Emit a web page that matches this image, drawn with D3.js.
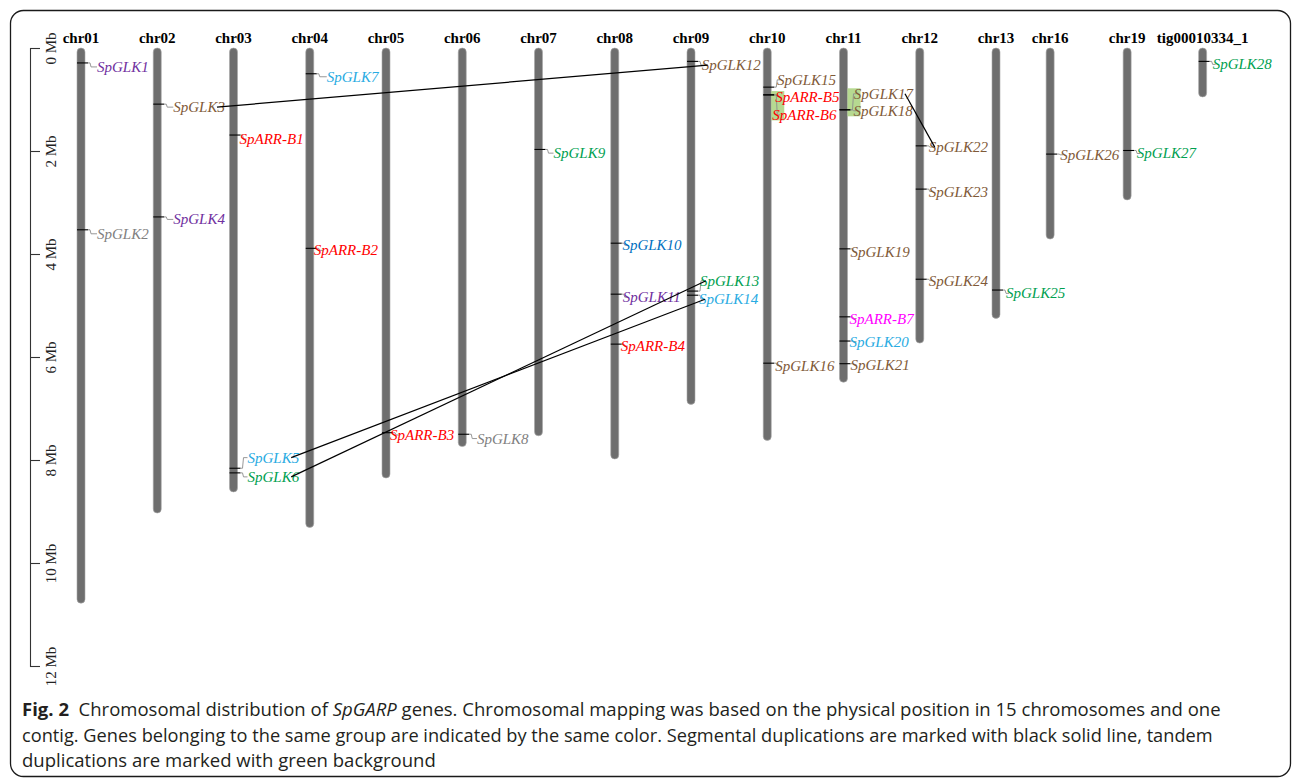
<!DOCTYPE html>
<html>
<head>
<meta charset="utf-8">
<script src="https://cdn.jsdelivr.net/npm/d3@7"></script>
<style>
  html, body { margin: 0; padding: 0; background: #fff; }
  svg { display: block; }
</style>
</head>
<body>
<svg id="chart" width="1292" height="780"></svg>
<script>
// ---------------- DATA ----------------
const chromosomes = ["chr01","chr02","chr03","chr04","chr05","chr06","chr07","chr08",
  "chr09","chr10","chr11","chr12","chr13","chr16","chr19","tig00010334_1"];
const chromLengthMb = [10.78, 9.03, 8.62, 9.31, 8.35, 7.74, 7.53, 7.98,
  6.92, 7.62, 6.49, 5.73, 5.25, 3.71, 2.95, 0.95];

const geneNames = ["SpGLK1","SpGLK2","SpGLK3","SpGLK4","SpARR-B1","SpGLK5","SpGLK6","SpGLK7",
  "SpARR-B2","SpARR-B3","SpGLK8","SpGLK9","SpGLK10","SpGLK11","SpARR-B4","SpGLK12",
  "SpGLK13","SpGLK14","SpGLK15","SpARR-B5","SpARR-B6","SpGLK16","SpGLK17","SpGLK18",
  "SpGLK19","SpARR-B7","SpGLK20","SpGLK21","SpGLK22","SpGLK23","SpGLK24","SpGLK25",
  "SpGLK26","SpGLK27","SpGLK28"];
const geneChrom = ["chr01","chr01","chr02","chr02","chr03","chr03","chr03","chr04",
  "chr04","chr05","chr06","chr07","chr08","chr08","chr08","chr09",
  "chr09","chr09","chr10","chr10","chr10","chr10","chr11","chr11",
  "chr11","chr11","chr11","chr11","chr12","chr12","chr12","chr13",
  "chr16","chr19","tig00010334_1"];
const genePosMb = [0.29, 3.53, 1.09, 3.28, 1.69, 8.16, 8.25, 0.50,
  3.89, 7.47, 7.50, 1.97, 3.79, 4.78, 5.75, 0.26,
  4.72, 4.80, 0.76, 0.91, 0.91, 6.12, 1.20, 1.20,
  3.90, 5.22, 5.69, 6.13, 1.90, 2.74, 4.49, 4.70,
  2.06, 1.99, 0.26];
const geneGroup = ["A","B","C","A","D","F","H","F",
  "D","D","B","H","G","A","D","C",
  "H","F","C","D","D","C","C","C",
  "C","E","F","C","C","C","C","H",
  "C","H","H"];

const segmentalPairs = [["SpGLK3","SpGLK12"],["SpGLK17","SpGLK22"],["SpGLK5","SpGLK14"],["SpGLK6","SpGLK13"]];
const tandemGroups = [["SpARR-B5","SpARR-B6"],["SpGLK17","SpGLK18"]];

const axisTicksMb = [0, 2, 4, 6, 8, 10, 12];

const captionLines = [
  [["b","Fig. 2"],["n","  Chromosomal distribution of "],["i","SpGARP"],["n"," genes. Chromosomal mapping was based on the physical position in 15 chromosomes and one"]],
  [["n","contig. Genes belonging to the same group are indicated by the same color. Segmental duplications are marked with black solid line, tandem"]],
  [["n","duplications are marked with green background"]]
];

// ---------------- STYLE / LAYOUT ----------------
const groupColor = {A:"#7030a0", B:"#7f7f7f", C:"#7f5a38", D:"#ff0000", E:"#ff00ff",
  F:"#29abe2", G:"#0070c0", H:"#00a050"};
// horizontal slot of each chromosome (layout only)
const chromSlot = [0,1,2,3,4,5,6,7,8,9,10,11,12,12.71,13.72,14.71];
// label placement nudges: [dx from bar edge, baseline offset from tick] (layout only)
const labelNudge = {
  "SpGLK1":[12,9], "SpGLK2":[12,9], "SpGLK3":[12,8], "SpGLK4":[12,7.5], "SpARR-B1":[2,9],
  "SpGLK5":[10,-5.6], "SpGLK6":[10,9], "SpGLK7":[13,8], "SpARR-B2":[0,7], "SpARR-B3":[0,7.3],
  "SpGLK8":[10.7,9.3], "SpGLK9":[11,8.7], "SpGLK10":[3.7,7], "SpGLK11":[4,8], "SpARR-B4":[2,7],
  "SpGLK12":[6.7,8.7], "SpGLK13":[5,-5.3], "SpGLK14":[4,9], "SpGLK15":[5.7,-2.3],
  "SpARR-B5":[4,6.7], "SpARR-B6":[1,25], "SpGLK16":[4,7.4], "SpGLK17":[6.3,-11], "SpGLK18":[6,6],
  "SpGLK19":[3,8], "SpARR-B7":[2,6.7], "SpGLK20":[2,5.7], "SpGLK21":[3,6], "SpGLK22":[5,6.3],
  "SpGLK23":[5,7.4], "SpGLK24":[5,6.4], "SpGLK25":[6,8.3], "SpGLK26":[6,5.7], "SpGLK27":[5.7,8],
  "SpGLK28":[6,8]
};

// ---------------- DRAW ----------------
const svg = d3.select("#chart");
const serif = "'Liberation Serif','Times New Roman',serif";

const x = d3.scaleLinear().domain([0, 12]).range([81, 996]);
const y = d3.scaleLinear().domain([0, 12]).range([48, 666]);
const barW = 8;
const chromX = {};
chromosomes.forEach((c, i) => chromX[c] = x(chromSlot[i]));

// frame
svg.append("rect").attr("x", 10.5).attr("y", 10.5).attr("width", 1280).attr("height", 766)
  .attr("rx", 13).attr("fill", "none").attr("stroke", "#1a1a1a").attr("stroke-width", 1.3);

// axis
const axisG = svg.append("g").attr("transform", "translate(30,0)")
  .call(d3.axisRight(y).tickValues(axisTicksMb).tickSize(10).tickSizeOuter(10).tickFormat(d => d + " Mb"));
axisG.select(".domain").attr("stroke", "#333").attr("stroke-width", 1.1);
axisG.selectAll(".tick line").attr("stroke", "#333").attr("stroke-width", 1.1);
axisG.selectAll(".tick text")
  .attr("x", null).attr("dy", null).attr("y", 0)
  .attr("transform", "translate(26,0) rotate(-90)")
  .attr("text-anchor", "middle")
  .attr("font-family", serif).attr("font-size", 15).attr("fill", "#222");

// chromosome labels
svg.append("g").selectAll("text").data(chromosomes).join("text")
  .attr("x", d => chromX[d]).attr("y", 43)
  .attr("text-anchor", "middle")
  .attr("font-family", serif).attr("font-weight", "bold").attr("font-size", 15).attr("fill", "#000")
  .text(d => d);

// chromosome bars
svg.append("g").selectAll("rect").data(chromosomes).join("rect")
  .attr("x", d => chromX[d] - barW / 2)
  .attr("y", y(0))
  .attr("width", barW)
  .attr("height", (d, i) => y(chromLengthMb[i]) - y(0))
  .attr("rx", barW / 2)
  .attr("fill", "#6e6e6e")
  .attr("stroke", "#a8a8a8").attr("stroke-width", 0.6);

// gene records
const genes = geneNames.map((n, i) => {
  const cx = chromX[geneChrom[i]];
  const t = y(genePosMb[i]);
  const nud = labelNudge[n];
  const lx = cx + barW / 2 + nud[0];
  const base = t + nud[1];
  return {name: n, cx, t, lx, base, c: base - 5, color: groupColor[geneGroup[i]]};
});
const gByName = {};
genes.forEach(g => gByName[g.name] = g);

// tandem backgrounds
const tandemG = svg.append("g");
tandemGroups.forEach(grp => {
  const gs = grp.map(n => gByName[n]);
  const top = d3.min(gs, g => g.c) - 5.5;
  const bot = d3.max(gs, g => g.c) + 5.5;
  const xr = gs[0].cx + barW / 2;
  tandemG.append("rect").attr("x", xr).attr("y", top).attr("width", 13).attr("height", bot - top)
    .attr("fill", "#a9d27e").attr("opacity", 0.85);
});

// gene ticks and connectors
const tickG = svg.append("g");
genes.forEach(g => {
  const xl = g.cx - barW / 2, xr = g.cx + barW / 2;
  tickG.append("line").attr("x1", xl).attr("x2", xr + 3).attr("y1", g.t).attr("y2", g.t)
    .attr("stroke", "#000").attr("stroke-width", 1.1);
  const p = d3.path();
  p.moveTo(xr + 3, g.t);
  p.lineTo(xr + 5, g.t);
  p.lineTo(xr + 6, g.c);
  p.lineTo(Math.max(g.lx, xr + 9), g.c);
  tickG.append("path").attr("d", p.toString()).attr("fill", "none")
    .attr("stroke", "#8c8c8c").attr("stroke-width", 0.9);
});

// gene labels
const labelG = svg.append("g");
genes.forEach(g => {
  g.node = labelG.append("text").attr("x", g.lx).attr("y", g.base)
    .attr("font-family", serif).attr("font-style", "italic").attr("font-size", 15)
    .attr("fill", g.color).text(g.name).node();
  g.w = g.node.getComputedTextLength();
});

// segmental duplication lines
const segG = svg.append("g");
segmentalPairs.forEach(([a, b]) => {
  const ga = gByName[a], gb = gByName[b];
  segG.append("line")
    .attr("x1", ga.lx + ga.w - 8).attr("y1", ga.c)
    .attr("x2", gb.lx + 6).attr("y2", gb.c)
    .attr("stroke", "#000").attr("stroke-width", 1.2);
});

// caption
const capBase = [716, 742, 767];
const capWidth = [1199, 1191, 414];
captionLines.forEach((parts, i) => {
  const t = svg.append("text").attr("x", 0).attr("y", 0)
    .attr("font-family", "'Open Sans','Noto Sans',sans-serif").attr("font-size", 17.5)
    .attr("fill", "#231f20").attr("xml:space", "preserve").style("white-space", "pre");
  parts.forEach(([st, s]) => {
    const ts = t.append("tspan").text(s);
    if (st === "b") ts.attr("font-weight", "bold");
    if (st === "i") ts.attr("font-style", "italic");
  });
  const w = t.node().getComputedTextLength();
  t.attr("transform", `translate(22,${capBase[i]}) scale(${capWidth[i] / w},1)`);
});
</script>
</body>
</html>
